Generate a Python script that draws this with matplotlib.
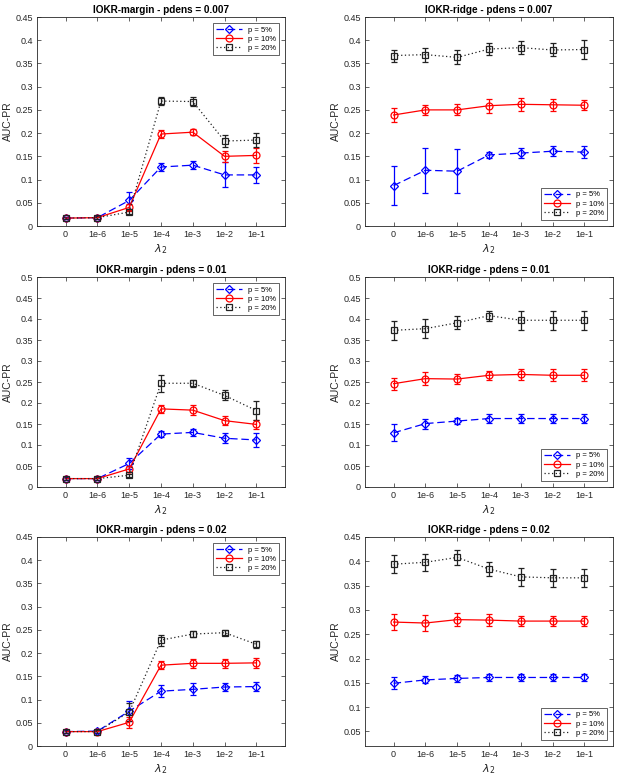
import numpy as np
import matplotlib
matplotlib.use("Agg")
import matplotlib.pyplot as plt
from matplotlib.ticker import FuncFormatter
from matplotlib.lines import Line2D

plt.rcParams['font.family'] = ['Liberation Sans', 'DejaVu Sans']

lambdas = ['0', '1e-6', '1e-5', '1e-4', '1e-3', '1e-2', '1e-1']
labels = ['p = 5%', 'p = 10%', 'p = 20%']

# IOKR-margin, pdens = 0.007
m007_p5 = [0.017, 0.018, 0.055, 0.127, 0.131, 0.110, 0.110]
m007_p5_err = [0.003, 0.003, 0.018, 0.008, 0.009, 0.027, 0.017]
m007_p10 = [0.017, 0.018, 0.040, 0.198, 0.202, 0.150, 0.152]
m007_p10_err = [0.003, 0.003, 0.008, 0.008, 0.007, 0.012, 0.016]
m007_p20 = [0.017, 0.018, 0.030, 0.269, 0.268, 0.183, 0.185]
m007_p20_err = [0.003, 0.003, 0.004, 0.008, 0.010, 0.012, 0.015]

# IOKR-ridge, pdens = 0.007
r007_p5 = [0.087, 0.120, 0.118, 0.153, 0.157, 0.161, 0.159]
r007_p5_err = [0.042, 0.049, 0.048, 0.007, 0.011, 0.011, 0.013]
r007_p10 = [0.239, 0.250, 0.250, 0.259, 0.262, 0.261, 0.260]
r007_p10_err = [0.014, 0.011, 0.012, 0.015, 0.014, 0.013, 0.011]
r007_p20 = [0.367, 0.369, 0.363, 0.381, 0.384, 0.379, 0.380]
r007_p20_err = [0.013, 0.015, 0.015, 0.012, 0.014, 0.014, 0.021]

# IOKR-margin, pdens = 0.01
m01_p5 = [0.020, 0.020, 0.056, 0.126, 0.130, 0.116, 0.112]
m01_p5_err = [0.003, 0.003, 0.014, 0.008, 0.009, 0.012, 0.016]
m01_p10 = [0.020, 0.020, 0.043, 0.186, 0.183, 0.158, 0.149]
m01_p10_err = [0.003, 0.003, 0.008, 0.010, 0.012, 0.011, 0.011]
m01_p20 = [0.020, 0.020, 0.028, 0.247, 0.247, 0.218, 0.182]
m01_p20_err = [0.003, 0.003, 0.004, 0.020, 0.008, 0.012, 0.023]

# IOKR-ridge, pdens = 0.01
r01_p5 = [0.129, 0.151, 0.157, 0.163, 0.163, 0.163, 0.163]
r01_p5_err = [0.020, 0.012, 0.008, 0.010, 0.010, 0.010, 0.010]
r01_p10 = [0.246, 0.258, 0.257, 0.266, 0.268, 0.266, 0.266]
r01_p10_err = [0.014, 0.015, 0.011, 0.011, 0.013, 0.014, 0.014]
r01_p20 = [0.373, 0.377, 0.391, 0.408, 0.397, 0.397, 0.397]
r01_p20_err = [0.022, 0.023, 0.015, 0.012, 0.023, 0.023, 0.023]

# IOKR-margin, pdens = 0.02
m02_p5 = [0.031, 0.032, 0.075, 0.118, 0.122, 0.127, 0.128]
m02_p5_err = [0.003, 0.003, 0.022, 0.013, 0.013, 0.008, 0.010]
m02_p10 = [0.031, 0.031, 0.051, 0.174, 0.178, 0.178, 0.179]
m02_p10_err = [0.003, 0.003, 0.012, 0.008, 0.009, 0.010, 0.010]
m02_p20 = [0.031, 0.031, 0.073, 0.228, 0.241, 0.244, 0.219]
m02_p20_err = [0.003, 0.003, 0.020, 0.012, 0.007, 0.006, 0.008]

# IOKR-ridge, pdens = 0.02
r02_p5 = [0.149, 0.156, 0.159, 0.161, 0.161, 0.161, 0.161]
r02_p5_err = [0.012, 0.007, 0.007, 0.007, 0.007, 0.007, 0.007]
r02_p10 = [0.275, 0.273, 0.280, 0.279, 0.277, 0.277, 0.277]
r02_p10_err = [0.016, 0.016, 0.014, 0.013, 0.011, 0.011, 0.011]
r02_p20 = [0.394, 0.398, 0.408, 0.384, 0.368, 0.366, 0.366]
r02_p20_err = [0.019, 0.017, 0.016, 0.014, 0.018, 0.019, 0.019]

styles = [
    dict(color='#0000ff', marker='D', ls=(0, (6, 3)), ms=4.2),
    dict(color='#ff0000', marker='o', ls='-', ms=5),
    dict(color='#222222', marker='s', ls=(0, (1, 2)), ms=4.2),
]


def fmt(v, pos):
    s = '%.2f' % v
    s = s.rstrip('0').rstrip('.')
    return s


def panel(ax, title, series, ylim, yticks, legloc):
    x = np.arange(1, len(lambdas) + 1)
    handles = []
    for (y, e), st, lab in zip(series, styles, labels):
        ax.errorbar(x, y, yerr=e, color=st['color'], marker=st['marker'],
                    ls=st['ls'], ms=st['ms'], mfc='none', mec=st['color'],
                    mew=0.9, lw=0.9, elinewidth=0.9, capsize=2)
        handles.append(Line2D([], [], color=st['color'], marker=st['marker'],
                              ls=st['ls'], ms=st['ms'], mfc='none', mew=0.9,
                              lw=0.9, label=lab))
    ax.set_xlim(0.1, 7.9)
    ax.set_ylim(*ylim)
    ax.set_xticks(x)
    ax.set_xticklabels(lambdas)
    ax.set_yticks(yticks)
    ax.yaxis.set_major_formatter(FuncFormatter(fmt))
    ax.tick_params(labelsize=6.5, colors='#262626', direction='in', length=3, width=0.5,
                   top=True, right=True, pad=3)
    for sp in ax.spines.values():
        sp.set_linewidth(0.6)
        sp.set_color('#262626')
    ax.set_title(title, fontsize=7.2, fontweight='bold', pad=3)
    ax.set_xlabel(r'$\lambda_2$', fontsize=8, color='#262626', labelpad=2)
    ax.set_ylabel('AUC-PR', fontsize=7.5, color='#262626', labelpad=2)
    leg = ax.legend(handles=handles, loc=legloc, fontsize=5.5, fancybox=False,
                    framealpha=1, edgecolor='#262626', handlelength=3.4,
                    borderpad=0.4, labelspacing=0.25, numpoints=1,
                    borderaxespad=0.8)
    leg.get_frame().set_linewidth(0.5)


fig = plt.figure(figsize=(6.32, 7.8), dpi=100)

lefts = [37 / 632, 365 / 632]
width = 248 / 632
rows = [(17, 226), (277, 487), (537, 746)]

cfg = [
    ('IOKR-margin - pdens = 0.007', [(m007_p5, m007_p5_err), (m007_p10, m007_p10_err), (m007_p20, m007_p20_err)],
     (0, 0.45), np.arange(0, 0.451, 0.05), 'upper right'),
    ('IOKR-ridge - pdens = 0.007', [(r007_p5, r007_p5_err), (r007_p10, r007_p10_err), (r007_p20, r007_p20_err)],
     (0, 0.45), np.arange(0, 0.451, 0.05), 'lower right'),
    ('IOKR-margin - pdens = 0.01', [(m01_p5, m01_p5_err), (m01_p10, m01_p10_err), (m01_p20, m01_p20_err)],
     (0, 0.5), np.arange(0, 0.501, 0.05), 'upper right'),
    ('IOKR-ridge - pdens = 0.01', [(r01_p5, r01_p5_err), (r01_p10, r01_p10_err), (r01_p20, r01_p20_err)],
     (0, 0.5), np.arange(0, 0.501, 0.05), 'lower right'),
    ('IOKR-margin - pdens = 0.02', [(m02_p5, m02_p5_err), (m02_p10, m02_p10_err), (m02_p20, m02_p20_err)],
     (0, 0.45), np.arange(0, 0.451, 0.05), 'upper right'),
    ('IOKR-ridge - pdens = 0.02', [(r02_p5, r02_p5_err), (r02_p10, r02_p10_err), (r02_p20, r02_p20_err)],
     (0.02, 0.45), np.arange(0.05, 0.451, 0.05), 'lower right'),
]

for i, (title, series, ylim, yt, loc) in enumerate(cfg):
    r, c = divmod(i, 2)
    top, bot = rows[r]
    ax = fig.add_axes([lefts[c], 1 - bot / 780, width, (bot - top) / 780])
    panel(ax, title, series, ylim, yt, loc)

fig.savefig('out.png', dpi=100)
